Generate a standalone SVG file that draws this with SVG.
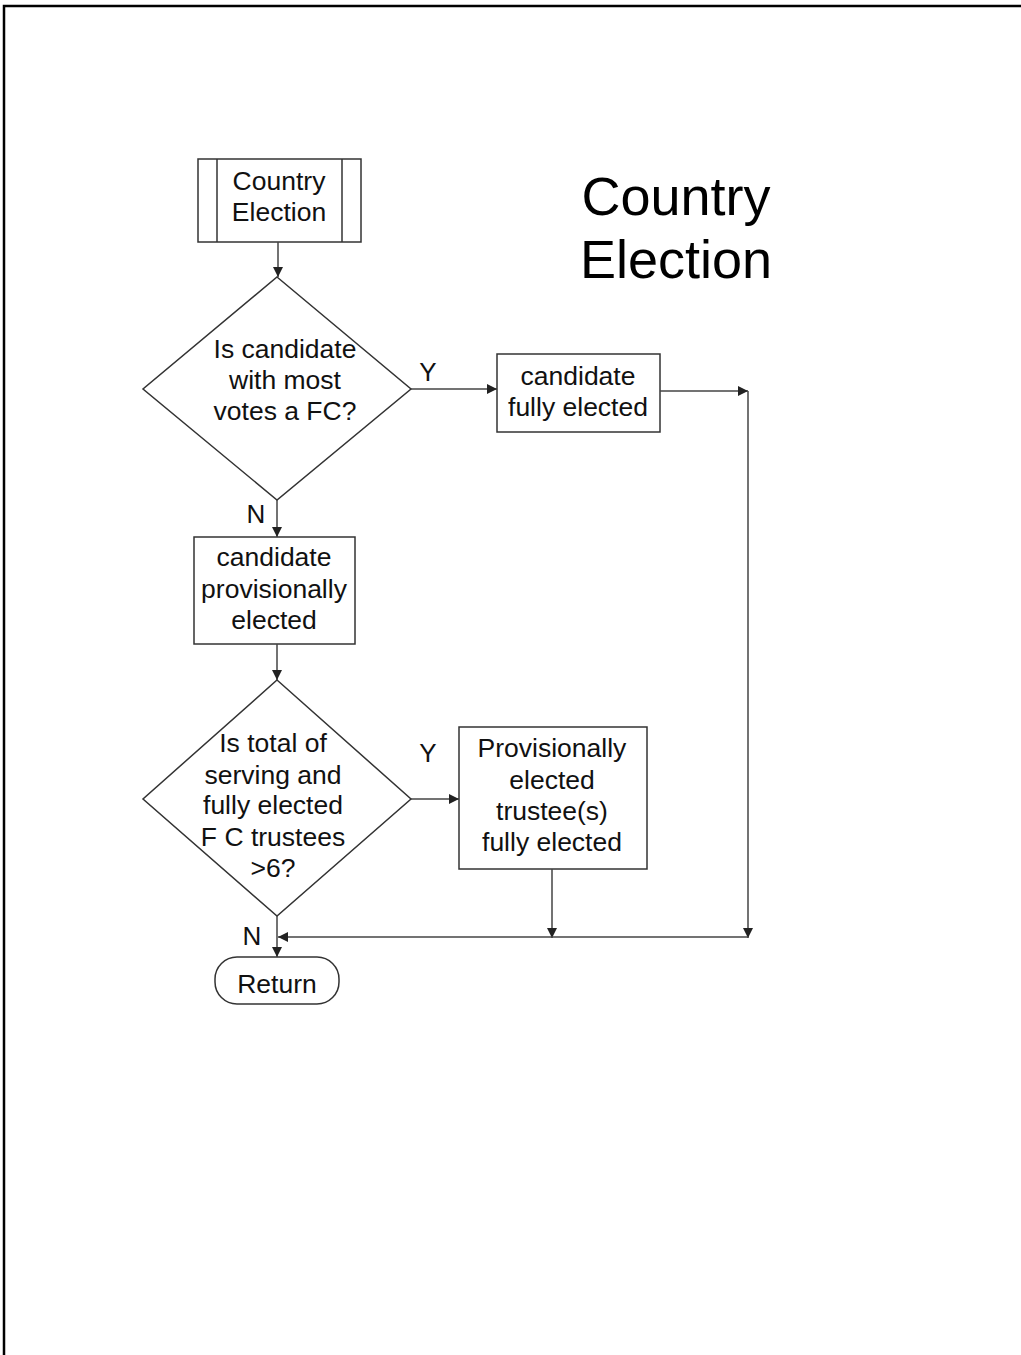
<svg xmlns="http://www.w3.org/2000/svg" width="1021" height="1355" viewBox="0 0 1021 1355">
<style>
  .shape{fill:#fff;stroke:#333;stroke-width:1.5}
  .conn{fill:none;stroke:#444;stroke-width:1.5}
  .t{font-family:"Liberation Sans",Arial,sans-serif;font-size:26.5px;fill:#111;text-anchor:middle}
  .lbl{font-family:"Liberation Sans",Arial,sans-serif;font-size:26px;fill:#111;text-anchor:middle}
  .title{font-family:"Liberation Sans",Arial,sans-serif;font-size:54px;fill:#000;text-anchor:middle}
</style>
<defs>
  <marker id="arr" viewBox="0 0 10 10" refX="10" refY="5" markerWidth="11" markerHeight="10" markerUnits="userSpaceOnUse" orient="auto">
    <path d="M0,0 L10,5 L0,10 z" fill="#222"/>
  </marker>
</defs>
<rect x="0" y="0" width="1021" height="1355" fill="#fff"/>
<path d="M4,1355 V6 H1021" fill="none" stroke="#000" stroke-width="2.5"/>

<g id="title">
  <text class="title" x="676" y="215">Country</text>
  <text class="title" x="676" y="278">Election</text>
</g>

<g id="start">
  <rect class="shape" x="198" y="159" width="163" height="83"/>
  <line class="shape" x1="217" y1="159" x2="217" y2="242"/>
  <line class="shape" x1="342" y1="159" x2="342" y2="242"/>
  <text class="t" x="279" y="190">Country</text>
  <text class="t" x="279" y="221">Election</text>
</g>

<g id="decision1">
  <polygon class="shape" points="277,277 411,389 277,500 143,389"/>
  <text class="t" x="285" y="358">Is candidate</text>
  <text class="t" x="285" y="389">with most</text>
  <text class="t" x="285" y="420">votes a FC?</text>
</g>

<g id="fully">
  <rect class="shape" x="497" y="354" width="163" height="78"/>
  <text class="t" x="578" y="385">candidate</text>
  <text class="t" x="578" y="416">fully elected</text>
</g>

<g id="provisional">
  <rect class="shape" x="194" y="537" width="161" height="107"/>
  <text class="t" x="274" y="566">candidate</text>
  <text class="t" x="274" y="598">provisionally</text>
  <text class="t" x="274" y="629">elected</text>
</g>

<g id="decision2">
  <polygon class="shape" points="277,680 411,799 277,916 143,799"/>
  <text class="t" x="273" y="752">Is total of</text>
  <text class="t" x="273" y="784">serving and</text>
  <text class="t" x="273" y="814">fully elected</text>
  <text class="t" x="273" y="846">F C trustees</text>
  <text class="t" x="273" y="877">&gt;6?</text>
</g>

<g id="provfull">
  <rect class="shape" x="459" y="727" width="188" height="142"/>
  <text class="t" x="552" y="757">Provisionally</text>
  <text class="t" x="552" y="789">elected</text>
  <text class="t" x="552" y="820">trustee(s)</text>
  <text class="t" x="552" y="851">fully elected</text>
</g>

<g id="return">
  <rect class="shape" x="215" y="957" width="124" height="47" rx="22" ry="22"/>
  <text class="t" x="277" y="993">Return</text>
</g>

<g id="connectors">
  <line class="conn" x1="278" y1="242" x2="278" y2="277" marker-end="url(#arr)"/>
  <line class="conn" x1="411" y1="389" x2="497" y2="389" marker-end="url(#arr)"/>
  <line class="conn" x1="660" y1="391" x2="748" y2="391" marker-end="url(#arr)"/>
  <line class="conn" x1="748" y1="391" x2="748" y2="938" marker-end="url(#arr)"/>
  <line class="conn" x1="277" y1="500" x2="277" y2="537" marker-end="url(#arr)"/>
  <line class="conn" x1="277" y1="644" x2="277" y2="680" marker-end="url(#arr)"/>
  <line class="conn" x1="411" y1="799" x2="459" y2="799" marker-end="url(#arr)"/>
  <line class="conn" x1="552" y1="869" x2="552" y2="938" marker-end="url(#arr)"/>
  <line class="conn" x1="748" y1="937" x2="278" y2="937" marker-end="url(#arr)"/>
  <line class="conn" x1="277" y1="916" x2="277" y2="957" marker-end="url(#arr)"/>
  <text class="lbl" x="428" y="381">Y</text>
  <text class="lbl" x="256" y="523">N</text>
  <text class="lbl" x="428" y="762">Y</text>
  <text class="lbl" x="252" y="945">N</text>
</g>
</svg>
